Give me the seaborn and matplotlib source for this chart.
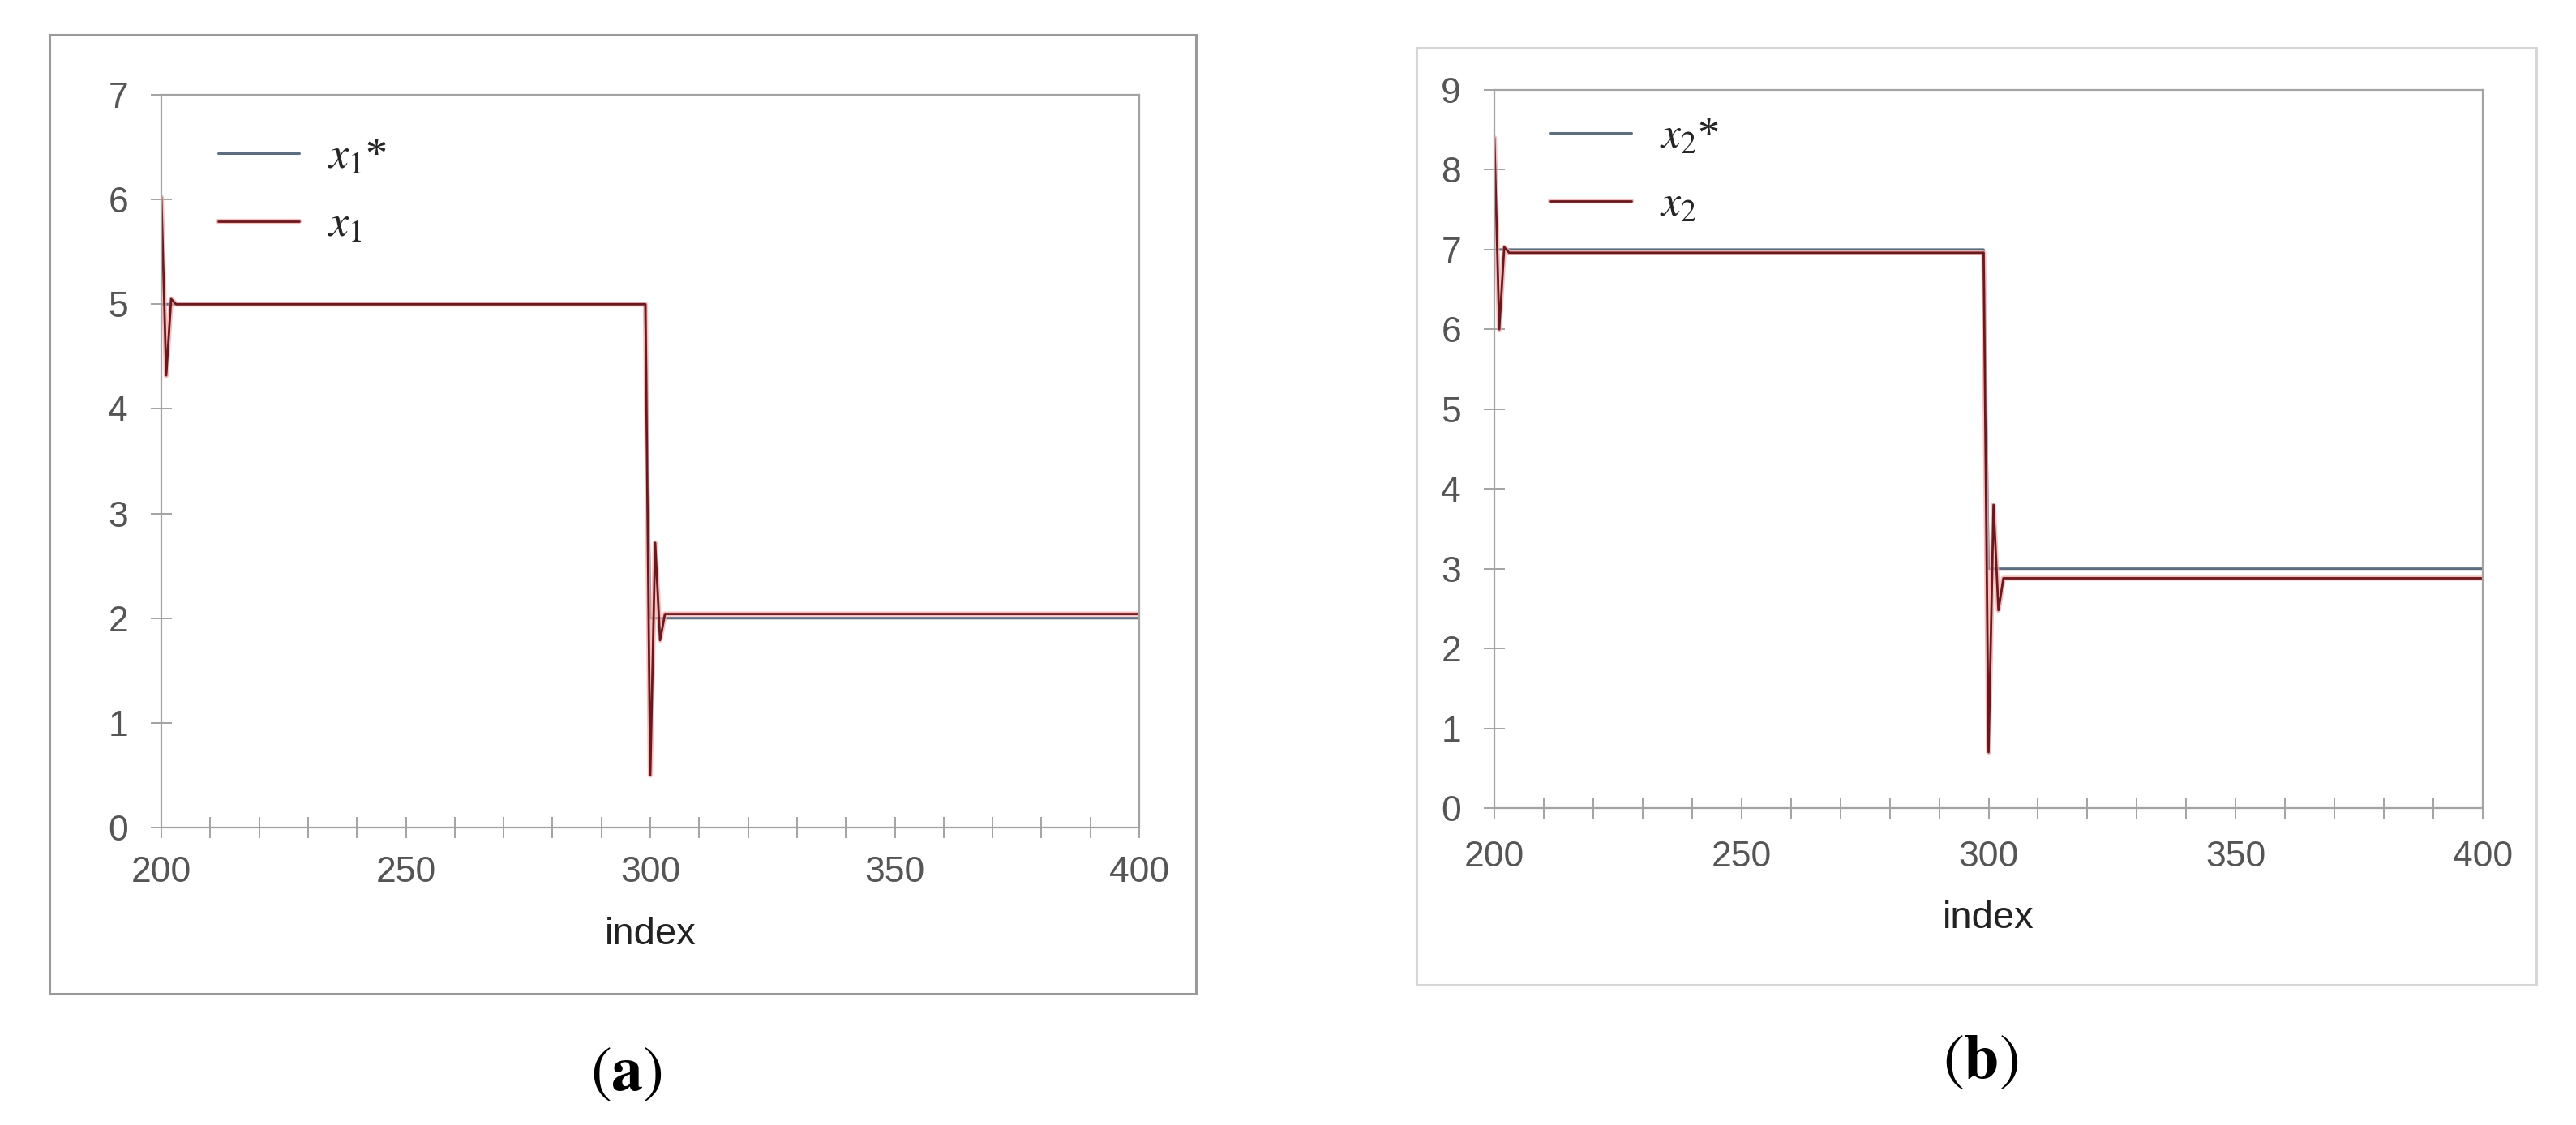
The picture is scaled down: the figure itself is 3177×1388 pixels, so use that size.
import numpy as np
import pandas as pd
import matplotlib
matplotlib.use("Agg")
import matplotlib.pyplot as plt
import matplotlib.patheffects as pe
from matplotlib.patches import Rectangle
from matplotlib.ticker import FixedLocator, MultipleLocator
import seaborn as sns

# ---------------- data ----------------
idx_ref_a = [200, 299, 300, 400]
x1_star = [5.0, 5.0, 2.0, 2.0]
idx_a = [200, 201, 202, 203, 299, 300, 301, 302, 303, 400]
x1 = [6.02, 4.32, 5.05, 5.0, 5.0, 0.5, 2.72, 1.79, 2.04, 2.04]

idx_ref_b = [200, 299, 300, 400]
x2_star = [7.0, 7.0, 3.0, 3.0]
idx_b = [200, 201, 202, 203, 299, 300, 301, 302, 303, 400]
x2 = [8.4, 6.0, 7.03, 6.96, 6.96, 0.7, 3.8, 2.48, 2.88, 2.88]

x_ticks = [200, 250, 300, 350, 400]
y_ticks_a = list(range(0, 8))
y_ticks_b = list(range(0, 10))
x_label = "index"
legend_a = [r"$x_1$*", r"$x_1$"]
legend_b = [r"$x_2$*", r"$x_2$"]
captions = [r"$(\mathbf{a})$", r"$(\mathbf{b})$"]

# ---------------- style ----------------
sns.set_theme(style="white")
plt.rcParams['font.family'] = ['Liberation Sans', 'DejaVu Sans']
plt.rcParams['mathtext.fontset'] = 'stix'

W, H = 3177, 1388
fig = plt.figure(figsize=(W / 100, H / 100), dpi=100)
fig.patch.set_facecolor('white')

BLUE = '#5c6e80'
RED = '#6a181c'
HALO = '#f2aaaa'
SPINE = '#a3a3a3'
TXT = '#555555'


def px_axes(x0, x1, ytop, ybot):
    return fig.add_axes([x0 / W, 1 - ybot / H, (x1 - x0) / W, (ybot - ytop) / H])


def panel(ax, xs_ref, ys_ref, xs, ys, ymax, yticks, labels, leg_anchor, xpad):
    df_ref = pd.DataFrame({'index': xs_ref, 'value': ys_ref})
    df = pd.DataFrame({'index': xs, 'value': ys})
    sns.lineplot(data=df_ref, x='index', y='value', ax=ax, color=BLUE, lw=2.2,
                 label=labels[0], estimator=None)
    sns.lineplot(data=df, x='index', y='value', ax=ax, color=RED, lw=2.0,
                 label=labels[1], estimator=None,
                 path_effects=[pe.Stroke(linewidth=4.5, foreground=HALO, alpha=0.75), pe.Normal()])
    ax.set_xlim(200, 400)
    ax.set_ylim(0, ymax)
    ax.xaxis.set_major_locator(FixedLocator(x_ticks))
    ax.xaxis.set_minor_locator(MultipleLocator(10))
    ax.yaxis.set_major_locator(FixedLocator(yticks))
    ax.tick_params(which='both', direction='inout', length=19, width=1.4, color=SPINE,
                   bottom=True, left=True)
    ax.tick_params(axis='y', pad=20, labelsize=32, labelcolor=TXT)
    ax.tick_params(axis='x', pad=xpad, labelsize=32, labelcolor=TXT)
    for s in ax.spines.values():
        s.set_visible(True)
        s.set_color(SPINE)
        s.set_linewidth(1.6)
    ax.set_xlabel(x_label, fontsize=34, color='#222222', labelpad=24)
    ax.set_ylabel('')
    ax.grid(False)
    ax.set_facecolor('white')
    leg = ax.legend(loc='upper left', bbox_to_anchor=leg_anchor, frameon=False,
                    prop={'family': 'Liberation Serif', 'size': 39},
                    handlelength=1.85, handletextpad=0.65, labelspacing=0.63,
                    borderaxespad=0, borderpad=0)
    return leg


# outer frames
fig.add_artist(Rectangle((61 / W, 1 - 1226 / H), (1475 - 61) / W, (1226 - 43) / H,
                         transform=fig.transFigure, fill=False, ec='#9a9a9a', lw=2.2))
fig.add_artist(Rectangle((1747 / W, 1 - 1215 / H), (3128 - 1747) / W, (1215 - 59) / H,
                         transform=fig.transFigure, fill=False, ec='#d6d6d6', lw=2.2))

ax1 = px_axes(199, 1405, 117, 1021)
panel(ax1, idx_ref_a, x1_star, idx_a, x1, 7, y_ticks_a, legend_a,
      (70 / 1206, 1 - 52 / 904), 16)

ax2 = px_axes(1843, 3062, 111, 997)
panel(ax2, idx_ref_b, x2_star, idx_b, x2, 9, y_ticks_b, legend_b,
      (69 / 1219, 1 - 33 / 886), 19)

fig.text(772 / W, 1 - 1325 / H, captions[0], ha='center', va='center', fontsize=56, color='black')
fig.text(2443 / W, 1 - 1310 / H, captions[1], ha='center', va='center', fontsize=56, color='black')

fig.savefig('out.png', dpi=100, facecolor='white')
